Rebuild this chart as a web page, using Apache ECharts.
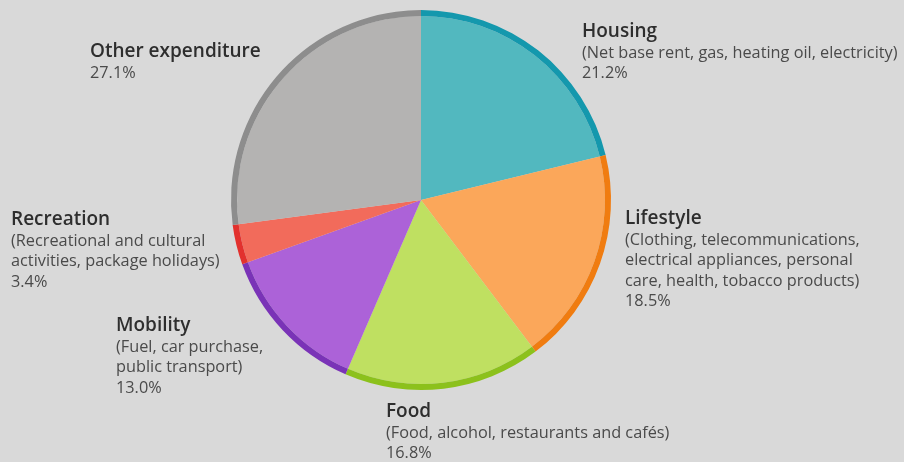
<!DOCTYPE html>
<html>
<head>
<meta charset="utf-8">
<style>
  html, body { margin: 0; padding: 0; background: #d9d9d9; }
  #chart { width: 904px; height: 462px; }
</style>
<script src="https://cdn.jsdelivr.net/npm/echarts@6/dist/echarts.min.js"></script>
</head>
<body>
<div id="chart"></div>
<script>
// Household spending shares, clockwise from 12 o'clock
const categories = ['Housing', 'Lifestyle', 'Food', 'Mobility', 'Recreation', 'Other expenditure'];
const descriptions = [
  ['(Net base rent, gas, heating oil, electricity)'],
  ['(Clothing, telecommunications,', 'electrical appliances, personal', 'care, health, tobacco products)'],
  ['(Food, alcohol, restaurants and cafés)'],
  ['(Fuel, car purchase,', 'public transport)'],
  ['(Recreational and cultural', 'activities, package holidays)'],
  []
];
const shares = [21.2, 18.5, 16.8, 13.0, 3.4, 27.1];

// Slice fills and darker rim colours
const fillColors = ['#52b8bf', '#fba75a', '#bfe061', '#ac62d8', '#f26b5b', '#b4b3b2'];
const rimColors  = ['#1498ad', '#f07c10', '#8cc11c', '#7a33b7', '#e2312e', '#8d8d8d'];

// Top-left corner of each label block
const labelPos = [[582, 20], [625, 207], [386, 400], [116, 314], [11, 208], [90, 40]];

const chart = echarts.init(document.getElementById('chart'), null, { renderer: 'canvas' });

const center = [421, 200];

chart.setOption({
  backgroundColor: '#d9d9d9',
  animation: false,
  series: [
    {
      type: 'pie',
      center: center,
      radius: [0, 184],
      startAngle: 90,
      clockwise: true,
      avoidLabelOverlap: false,
      itemStyle: { borderWidth: 0 },
      emphasis: { disabled: true },
      labelLine: { show: false },
      label: {
        show: true,
        formatter: function (p) {
          const i = p.dataIndex;
          const lines = ['{t|' + categories[i] + '}'];
          descriptions[i].forEach(function (d) { lines.push('{d|' + d + '}'); });
          lines.push('{d|' + shares[i].toFixed(1) + '%}');
          return lines.join('\n');
        },
        rich: {
          t: { fontFamily: 'Open Sans', fontWeight: 600, fontSize: 19, color: '#2e2e2e', lineHeight: 23 },
          d: { fontFamily: 'Open Sans', fontSize: 16.3, color: '#4a4a4a', lineHeight: 20.5 }
        }
      },
      labelLayout: function (p) {
        const pos = labelPos[p.dataIndex];
        return { x: pos[0], y: pos[1], align: 'left', verticalAlign: 'top', hideOverlap: false };
      },
      data: categories.map(function (c, i) {
        return { name: c, value: shares[i], itemStyle: { color: fillColors[i] } };
      })
    },
    {
      type: 'pie',
      center: center,
      radius: [184, 190],
      startAngle: 90,
      clockwise: true,
      silent: true,
      label: { show: false },
      labelLine: { show: false },
      itemStyle: { borderWidth: 0 },
      data: categories.map(function (c, i) {
        return { name: c, value: shares[i], itemStyle: { color: rimColors[i] } };
      })
    }
  ]
});
</script>
</body>
</html>
